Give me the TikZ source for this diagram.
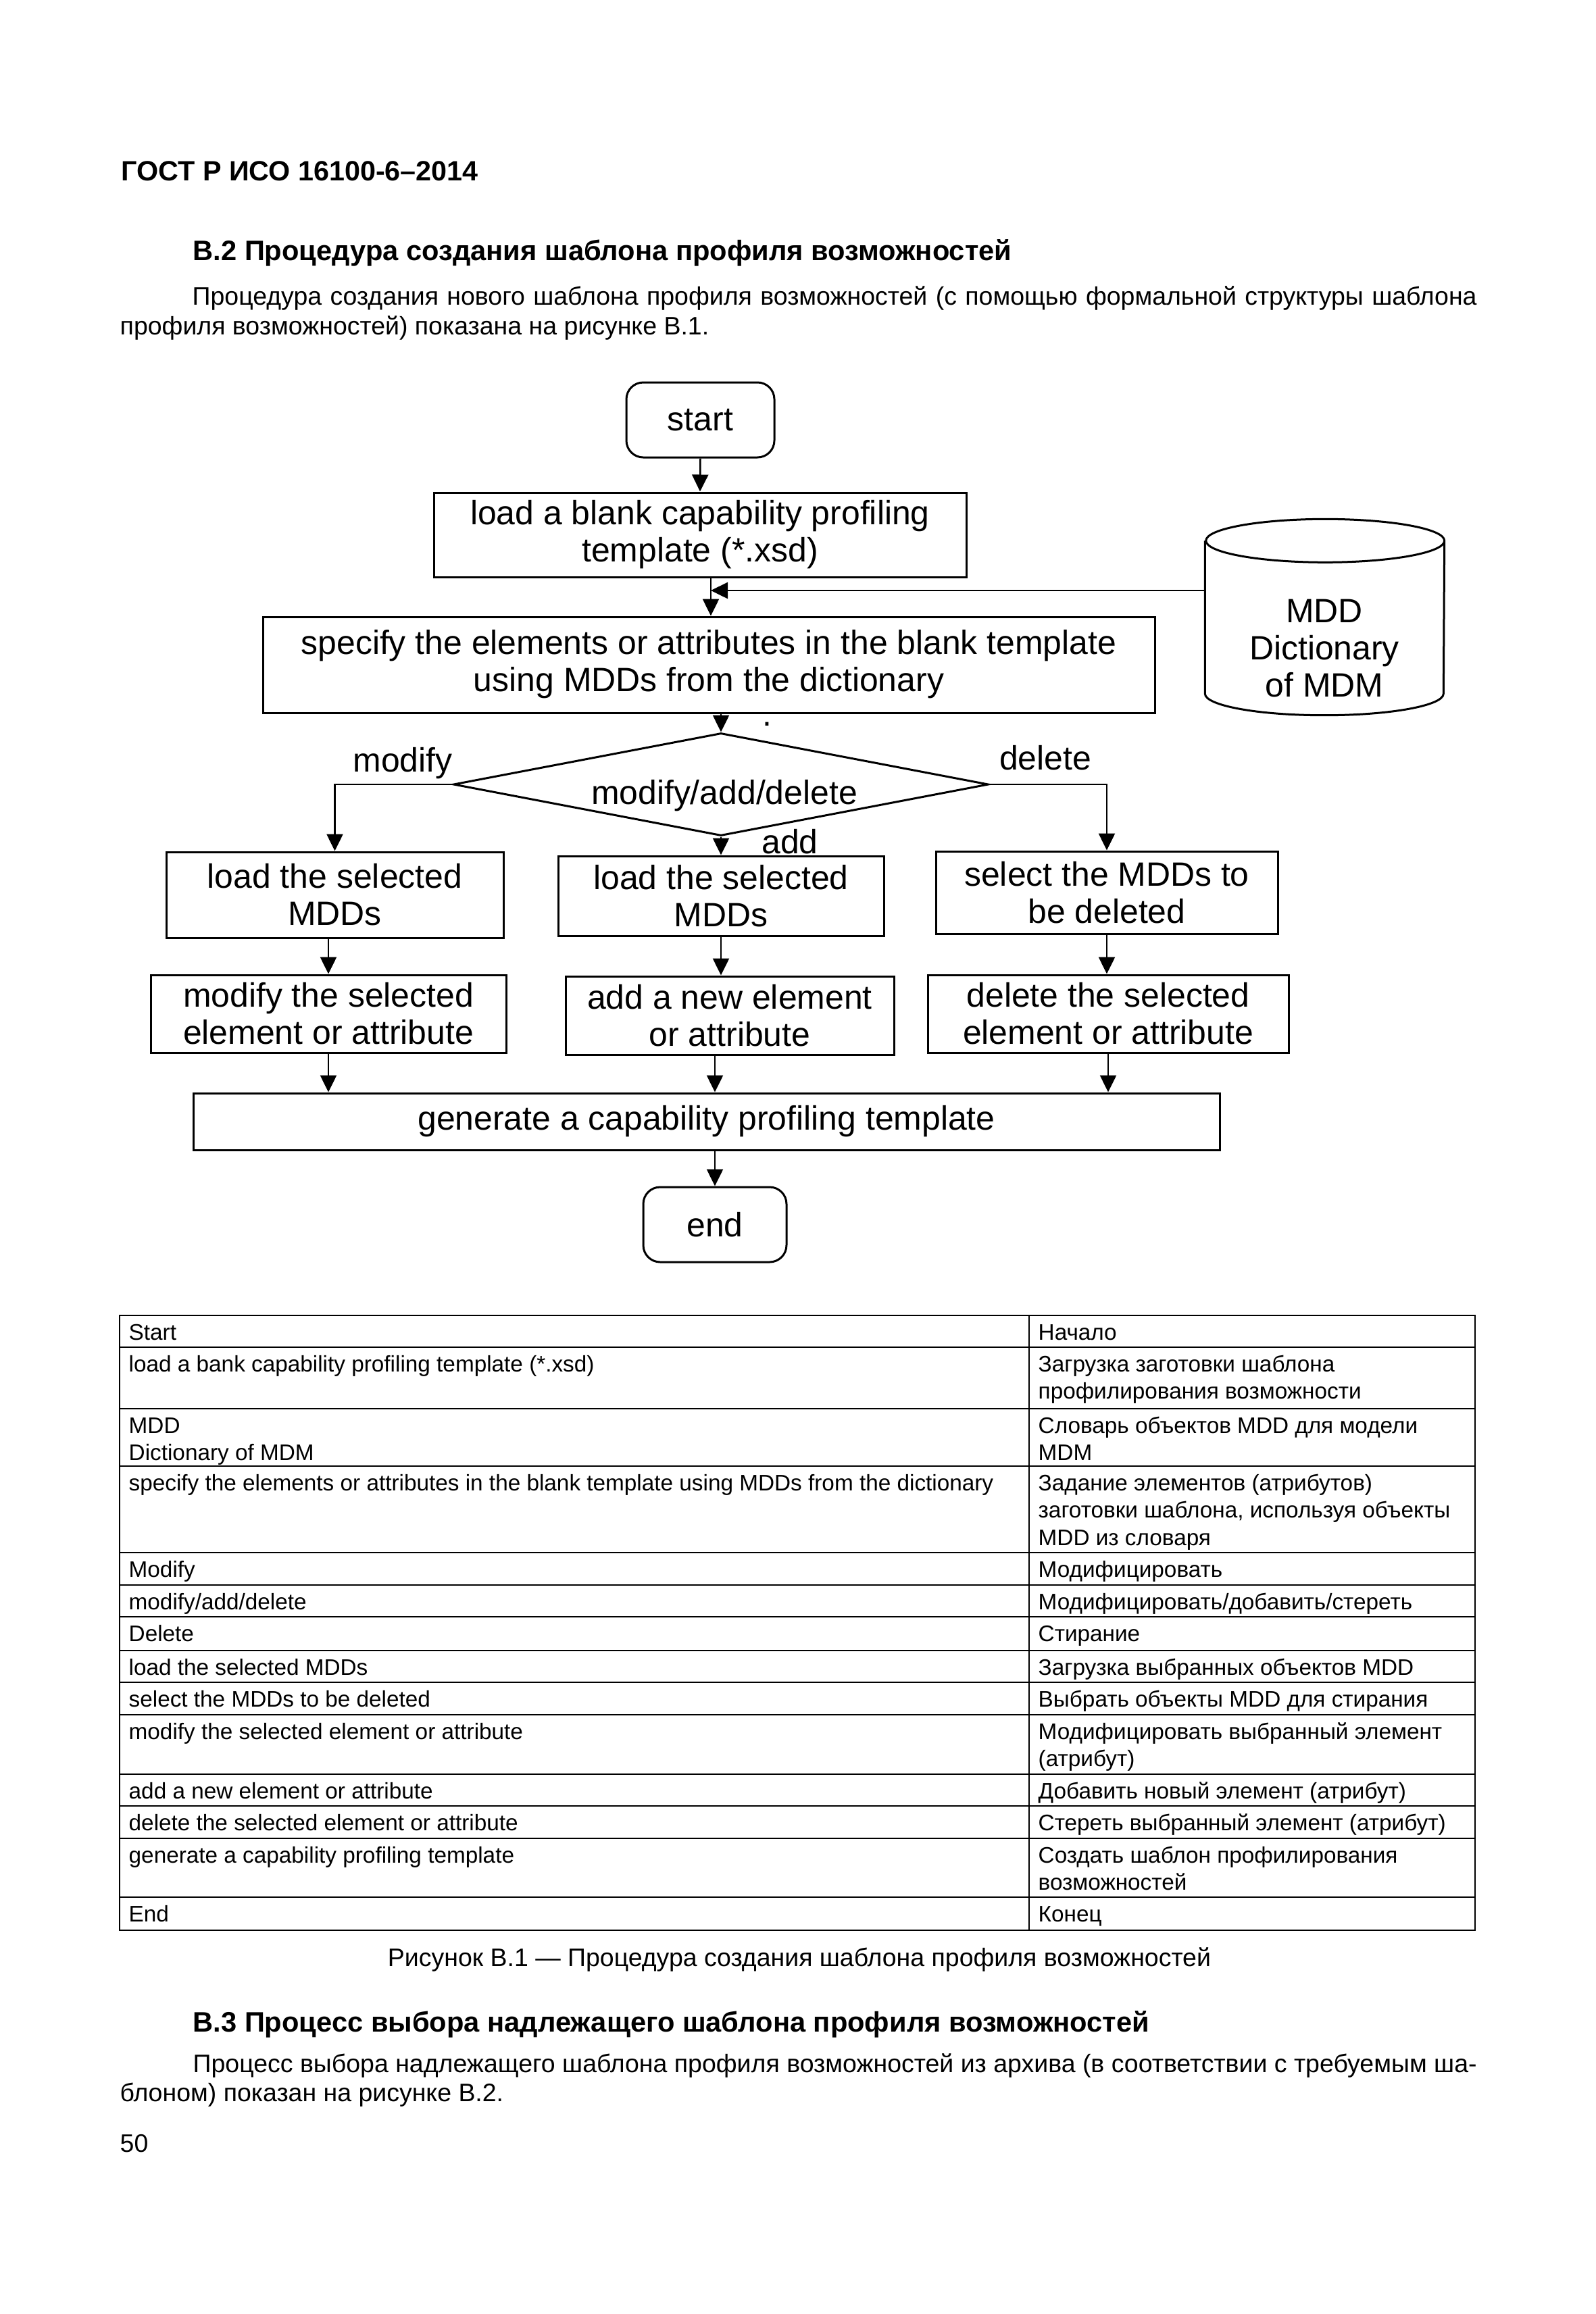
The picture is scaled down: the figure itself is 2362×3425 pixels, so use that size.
\documentclass[tikz,border=0pt]{standalone}
\usepackage{fontspec}
\setmainfont{Liberation Sans}
\usetikzlibrary{arrows.meta,calc,shapes.geometric}
\newcommand\flowfont{\fontsize{14.2}{15.65}\selectfont}
\newcommand\bodyfont{\fontsize{10.66}{12.5}\selectfont}
\newcommand\headfont{\fontsize{11.85}{14}\selectfont\bfseries}
\newcommand\tabfont{\fontsize{9.48}{11.52}\selectfont}
\newcommand\hdrfont{\fontsize{11.75}{14}\selectfont\bfseries}
\begin{document}
\begin{tikzpicture}[x=0.1mm,y=-0.1mm,
  box/.style={draw, line width=0.3mm, inner sep=0pt, align=center, font=\flowfont},
  term/.style={box, rounded corners=2.5mm},
  arr/.style={line width=0.25mm, -{Triangle[length=2.5mm,width=2.4mm]}},
  tl/.style={line width=0.28mm},
  txt/.style={inner sep=0pt, anchor=base west},
  flab/.style={inner sep=0pt, anchor=base, font=\flowfont},
  tcell/.style={inner sep=0pt, anchor=base west, align=left, font=\tabfont}]
\useasboundingbox (0,0) rectangle (2362,3425);
\fill[white] (0,0) rectangle (2362,3425);

% page texts
\node[txt, font=\hdrfont] (hdr) at (179,267) {ГОСТ Р ИСО 16100-6–2014};
\node[txt, font=\headfont] (h2) at (285,385) {В.2 Процедура создания шаблона профиля возможностей};
\node[txt, font=\bodyfont] (p1a) at (284,451) {\makebox[190.1mm][s]{Процедура создания нового шаблона профиля возможностей (с помощью формальной структуры шаблона}};
\node[txt, font=\bodyfont] (p1b) at (177,495) {профиля возможностей) показана на рисунке В.1.};

% flowchart
\node[term, minimum width=21.9mm, minimum height=11.1mm] (start) at (1036.5,621.5) {start};
\node[box, minimum width=78.8mm, minimum height=12.5mm] (load) at (1036,791.5) {load a blank capability profiling\\template (*.xsd)};
\node[box, minimum width=132mm, minimum height=14.2mm] (spec) at (1049,984) {specify the elements or attributes in the blank template\\using MDDs from the dictionary\rule[-1.2mm]{0pt}{0pt}};
\node[inner sep=0pt, minimum width=35.3mm, minimum height=28.9mm] (mdd) at (1960.5,913.5) {};
\draw[line width=0.3mm] ([yshift=-3.2mm]mdd.north west) -- ([yshift=3.2mm]mdd.south west)
  arc[start angle=180, end angle=360, x radius=17.65mm, y radius=3.2mm]
  -- ([yshift=-3.2mm]mdd.north east)
  arc[start angle=0, end angle=180, x radius=17.65mm, y radius=3.2mm]
  arc[start angle=180, end angle=360, x radius=17.65mm, y radius=3.2mm];
\node[font=\flowfont, align=center, inner sep=0pt] (mddtxt) at (1960,960) {MDD\\Dictionary\\of MDM};
\node[draw, diamond, line width=0.3mm, minimum width=79.2mm, minimum height=15.2mm, inner sep=0pt] (dia) at (1067,1161) {};
\node[flab] (dtxt) at (1072,1190) {modify/add/delete};
\node[flab] (lmod) at (596,1142) {modify};
\node[flab] (ldel) at (1547,1139) {delete};
\node[flab] (ladd) at (1169,1263) {add};
\node[flab] (dot) at (1135,1074) {.};

\node[box, minimum width=49.9mm, minimum height=12.7mm] (m1) at (495.5,1324.5) {load the selected\\MDDs};
\node[box, minimum width=48.2mm, minimum height=11.8mm] (a1) at (1067,1326) {load the selected\\MDDs};
\node[box, minimum width=50.6mm, minimum height=12.2mm] (d1) at (1638,1321) {select the MDDs to\\be deleted};
\node[box, minimum width=52.6mm, minimum height=11.5mm] (m2) at (486,1500.5) {modify the selected\\element or attribute};
\node[box, minimum width=48.6mm, minimum height=11.6mm] (a2) at (1080,1503) {add a new element\\or attribute};
\node[box, minimum width=53.4mm, minimum height=11.5mm] (d2) at (1640,1500.5) {delete the selected\\element or attribute};
\node[box, minimum width=151.9mm, minimum height=8.4mm] (gen) at (1045.5,1660) {generate a capability profiling template};
\node[term, minimum width=21.2mm, minimum height=11.1mm] (stop) at (1058,1812.5) {end};

\coordinate (j) at (1052,874);
\draw[arr] (start.south) -- (load.north);
\draw[arr] ([xshift=1.6mm]load.south) -- ([xshift=1.6mm]load.south |- spec.north);
\draw[arr] (mdd.west |- j) -- (j);
\draw[arr] (dia.north |- spec.south) -- (dia.north);
\draw[arr] (dia.west) -| (m1.north);
\draw[arr] (dia.east) -| (d1.north);
\draw[arr] (dia.south) -- (dia.south |- a1.north);
\draw[arr] (m2.north |- m1.south) -- (m2.north);
\draw[arr] (a1.south) -- (a1.south |- a2.north);
\draw[arr] (d1.south) -- (d1.south |- d2.north);
\draw[arr] (m2.south) -- (m2.south |- gen.north);
\draw[arr] ([xshift=-2.2mm]a2.south) -- ([xshift=-2.2mm]a2.south |- gen.north);
\draw[arr] (d2.south) -- (d2.south |- gen.north);
\draw[arr] (gen.south -| stop.north) -- (stop.north);

% table
\draw[tl] (177,1947) rectangle (2183,2857);
\draw[tl] (1523,1947) -- (1523,2857);
\foreach \y in {1994,2085,2170,2298,2346,2393,2443,2490,2538,2626,2673,2721,2808}
  \draw[tl] (177,\y) -- (2183,\y);

% (base anchor of a multi-line cell is its last line)
\node[tcell] (e1) at (190,1983) {Start};
\node[tcell] (r1) at (1536,1983) {Начало};
\node[tcell] (e2) at (190,2030) {load a bank capability profiling template (*.xsd)};
\node[tcell] (r2) at (1536,2070.5) {Загрузка заготовки шаблона\\профилирования возможности};
\node[tcell] (e3) at (190,2161.5) {MDD\\Dictionary of MDM};
\node[tcell] (r3) at (1536,2161.5) {Словарь объектов MDD для модели\\MDM};
\node[tcell] (e4) at (190,2206) {specify the elements or attributes in the blank template using MDDs from the dictionary};
\node[tcell] (r4) at (1536,2287) {Задание элементов (атрибутов)\\заготовки шаблона, используя объекты\\MDD из словаря};
\node[tcell] (e5) at (190,2334) {Modify};
\node[tcell] (r5) at (1536,2334) {Модифицировать};
\node[tcell] (e6) at (190,2382) {modify/add/delete};
\node[tcell] (r6) at (1536,2382) {Модифицировать/добавить/стереть};
\node[tcell] (e7) at (190,2429) {Delete};
\node[tcell] (r7) at (1536,2429) {Стирание};
\node[tcell] (e8) at (190,2479) {load the selected MDDs};
\node[tcell] (r8) at (1536,2479) {Загрузка выбранных объектов MDD};
\node[tcell] (e9) at (190,2526) {select the MDDs to be deleted};
\node[tcell] (r9) at (1536,2526) {Выбрать объекты MDD для стирания};
\node[tcell] (e10) at (190,2574) {modify the selected element or attribute};
\node[tcell] (r10) at (1536,2614.5) {Модифицировать выбранный элемент\\(атрибут)};
\node[tcell] (e11) at (190,2662) {add a new element or attribute};
\node[tcell] (r11) at (1536,2662) {Добавить новый элемент (атрибут)};
\node[tcell] (e12) at (190,2709) {delete the selected element or attribute};
\node[tcell] (r12) at (1536,2709) {Стереть выбранный элемент (атрибут)};
\node[tcell] (e13) at (190,2757) {generate a capability profiling template};
\node[tcell] (r13) at (1536,2797.5) {Создать шаблон профилирования\\возможностей};
\node[tcell] (e14) at (190,2844) {End};
\node[tcell] (r14) at (1536,2844) {Конец};

% caption and following text
\node[inner sep=0pt, anchor=base, font=\bodyfont] (cap) at (1183,2910) {Рисунок В.1 — Процедура создания шаблона профиля возможностей};
\node[txt, font=\headfont] (h3) at (285,3007) {В.3 Процесс выбора надлежащего шаблона профиля возможностей};
\node[txt, font=\bodyfont] (p2a) at (285,3067) {\makebox[190mm][s]{Процесс выбора надлежащего шаблона профиля возможностей из архива (в соответствии с требуемым ша-}};
\node[txt, font=\bodyfont] (p2b) at (177,3110) {блоном) показан на рисунке В.2.};
\node[txt, font=\bodyfont] (pg) at (177,3185) {50};
\end{tikzpicture}
\end{document}
